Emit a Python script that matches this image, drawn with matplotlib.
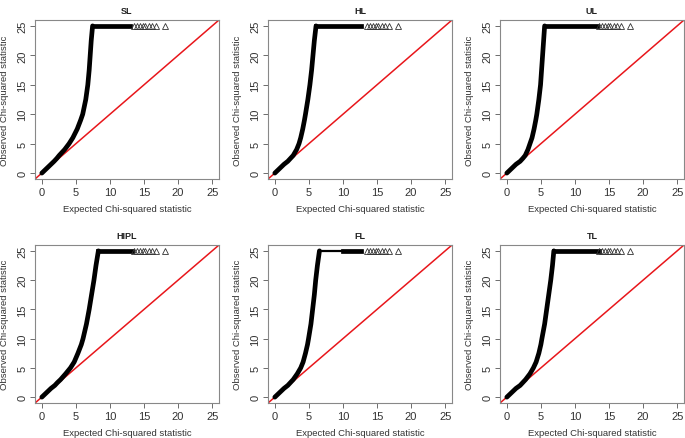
import matplotlib.pyplot as plt

plt.rcParams["font.family"] = ["Liberation Sans", "DejaVu Sans"]

# panel titles
titles = ["SL", "HL", "UL", "HIPL", "FL", "TL"]

# observed chi-squared levels (shared) and expected values read per panel
obs_levels = [0, 0.5, 1, 1.5, 2, 2.5, 3, 4, 5, 6, 7.5, 9, 10, 12.5, 15, 17.5, 20, 22.5, 25]
exp_SL = [0, 0.45, 0.9, 1.35, 1.8, 2.2, 2.55, 3.35, 4.0, 4.55, 5.2, 5.7, 6.0, 6.45, 6.75, 6.95, 7.1, 7.25, 7.45]
exp_HL = [0, 0.45, 0.9, 1.35, 1.9, 2.3, 2.7, 3.2, 3.55, 3.8, 4.1, 4.35, 4.5, 4.85, 5.15, 5.4, 5.6, 5.8, 6.05]
exp_UL = [0, 0.45, 0.9, 1.35, 1.95, 2.35, 2.7, 3.1, 3.4, 3.7, 4.0, 4.25, 4.4, 4.7, 4.95, 5.1, 5.25, 5.4, 5.55]
exp_HIPL = [0, 0.45, 0.9, 1.35, 1.9, 2.3, 2.75, 3.5, 4.2, 4.75, 5.3, 5.8, 6.05, 6.55, 6.95, 7.3, 7.65, 7.95, 8.3]
exp_FL = [0, 0.45, 0.9, 1.35, 1.9, 2.3, 2.7, 3.3, 3.8, 4.15, 4.5, 4.8, 4.95, 5.3, 5.55, 5.8, 6.0, 6.25, 6.55]
exp_TL = [0, 0.45, 0.9, 1.35, 1.95, 2.35, 2.75, 3.4, 3.9, 4.3, 4.7, 5.0, 5.15, 5.55, 5.85, 6.15, 6.45, 6.7, 6.9]
curves = [exp_SL, exp_HL, exp_UL, exp_HIPL, exp_FL, exp_TL]

# capped points (observed = 25): thin run end, dense run end, sparse tail
cap_value = 25
thin_end = [7.45, 6.05, 5.55, 8.3, 10.0, 6.9]
dense_end = [13.0, 12.7, 13.3, 13.3, 12.6, 13.5]
tail_expected = [13.6, 14.0, 14.4, 14.8, 15.2, 15.7, 16.2, 16.8, 18.1]

ticks = [0, 5, 10, 15, 20, 25]

W, H = 685, 439
fig = plt.figure(figsize=(W / 100, H / 100), dpi=100)

lefts = [35, 268, 500]
rows = [(21, 180), (246, 404)]
axw = 184

for i, name in enumerate(titles):
    r, c = divmod(i, 3)
    top, bottom = rows[r]
    axh = bottom - top
    ax = fig.add_axes([lefts[c] / W, 1 - bottom / H, axw / W, axh / H])
    x = curves[i]
    # dense run of observed points
    ax.plot(x, obs_levels, color="black", lw=3.4, solid_capstyle="round",
            solid_joinstyle="round", zorder=3)
    # capped values drawn at 25
    ax.plot([x[-1], thin_end[i]], [cap_value, cap_value], color="black", lw=1.6, zorder=3)
    ax.plot([thin_end[i], dense_end[i]], [cap_value, cap_value], color="black", lw=3.4, zorder=3)
    ax.plot(tail_expected, [cap_value] * len(tail_expected), linestyle="none",
            marker="^", markersize=4, markerfacecolor="none", markeredgecolor="#333333",
            markeredgewidth=0.6, zorder=3)
    # reference line y = x
    ax.plot([-1, 26], [-1, 26], color="#e8161b", lw=1.1, zorder=2)

    ax.set_xlim(-1, 26)
    ax.set_ylim(-1, 26)
    ax.set_xticks(ticks)
    ax.set_yticks(ticks)
    ax.tick_params(length=3.5, width=0.6, color="#555555", labelsize=8,
                   labelcolor="#333333", pad=2)
    for lbl in ax.get_yticklabels():
        lbl.set_rotation(90)
        lbl.set_va("center")
    for s in ax.spines.values():
        s.set_color("#888888")
        s.set_linewidth(0.8)
    ax.set_title(name, fontsize=6.5, fontweight="bold", pad=5, color="#222222")
    ax.set_xlabel("Expected Chi-squared statistic", fontsize=6.8, color="#333333", va="center")
    ax.set_ylabel("Observed Chi-squared statistic", fontsize=6.8, color="#333333", va="center")
    ax.xaxis.set_label_coords(0.5, -30 / axh)
    ax.yaxis.set_label_coords(-30 / axw, 0.5)

plt.savefig("out.png", dpi=100)
plt.close("all")
